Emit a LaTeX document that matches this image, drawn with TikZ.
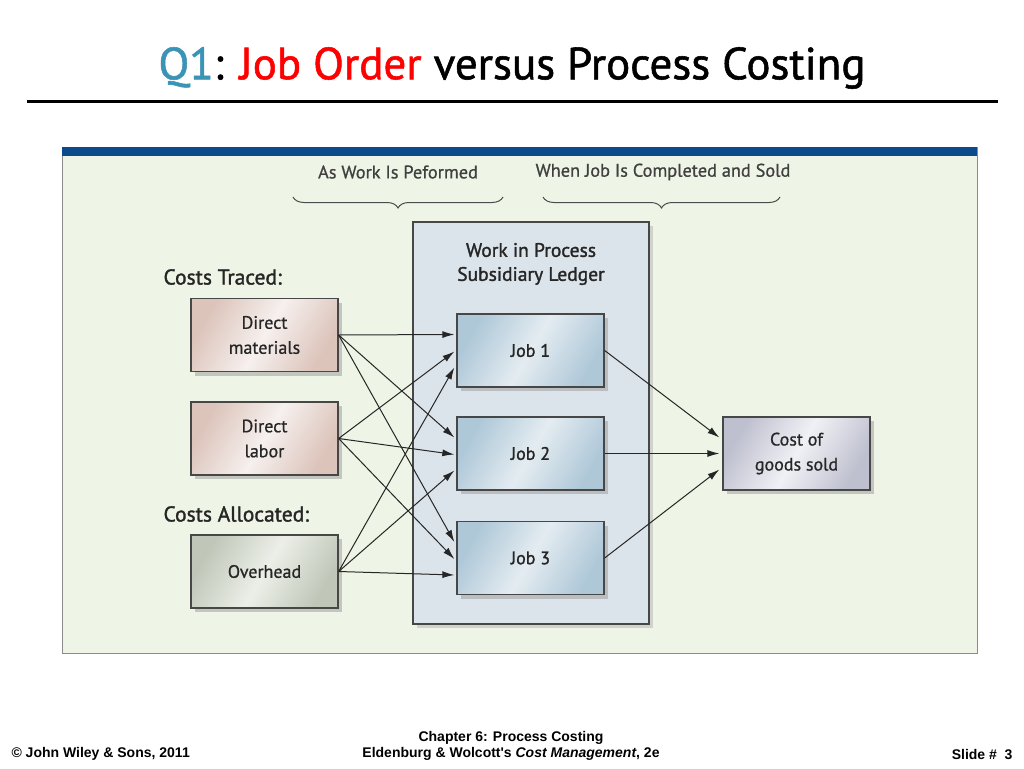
\documentclass[tikz,border=0pt]{standalone}
\usepackage{fontspec}
\setmainfont{PT Sans}
\newfontfamily\diagfont[FakeBold=0.8]{PT Sans}
\newfontfamily\headfont[FakeBold=1.5]{PT Sans}
\newfontfamily\titlefont[FakeBold=1.2]{PT Sans}
\newfontfamily\footfont{Liberation Sans}
\usetikzlibrary{arrows.meta,shadows,decorations.pathreplacing}

\definecolor{panelgreen}{HTML}{EEF5E6}
\definecolor{bandblue}{HTML}{0B4A8B}
\definecolor{ledgerblue}{HTML}{DCE4EB}
\definecolor{jobdark}{HTML}{AFC8D8}
\definecolor{joblight}{HTML}{E4ECF1}
\definecolor{costdark}{HTML}{DCC4BB}
\definecolor{costlight}{HTML}{F6F0EE}
\definecolor{ovhdark}{HTML}{C0C7B9}
\definecolor{ovhlight}{HTML}{ECEFE8}
\definecolor{cogsdark}{HTML}{BFC0CF}
\definecolor{cogslight}{HTML}{F0F1F5}
\definecolor{qblue}{HTML}{3B93B5}
\definecolor{linegray}{HTML}{474747}

\tikzset{
	box/.style={draw=linegray, line width=1.3pt, minimum width=147pt, minimum height=73pt, align=center,
		font=\diagfont\fontsize{18}{25}\selectfont, text=black!85,
		drop shadow={shadow xshift=4pt, shadow yshift=-4pt, fill=black!40, opacity=.5}},
	jobbox/.style={box, left color=jobdark, right color=jobdark, middle color=joblight, shading angle=60, font=\headfont\fontsize{18}{25}\selectfont},
	costbox/.style={box, left color=costdark, right color=costdark, middle color=costlight, shading angle=60},
	ovhbox/.style={box, left color=ovhdark, right color=ovhdark, middle color=ovhlight, shading angle=60},
	cogsbox/.style={box, left color=cogsdark, right color=cogsdark, middle color=cogslight, shading angle=60},
	flow/.style={-{Latex[length=12pt,width=7pt]}, line width=1pt, black!85},
	heading/.style={font=\headfont\fontsize{19.5}{24}\selectfont, text=black!85},
	phase/.style={font=\diagfont\fontsize{18.3}{22}\selectfont, text=black!75},
	phasebrace/.style={decorate, decoration={brace, amplitude=11pt, mirror}, line width=1pt, black!70},
	footer/.style={font=\footfont\bfseries\fontsize{14}{16}\selectfont}
}

\begin{document}
\begin{tikzpicture}[x=1pt,y=-1pt]
	\useasboundingbox (0,0) rectangle (1024,768);
	
	% title and rule
	\node (title) at (512,68) {\titlefont\fontsize{45}{50}\selectfont\textcolor{qblue}{Q1}: \textcolor{red}{Job Order} versus Process Costing};
	\draw[line width=3pt] (27,101) -- (998,101);
	
	% panel
	\draw[fill=panelgreen, draw=black!45, line width=1pt] (62,147) rectangle (977,653);
	\fill[bandblue] (62,147) rectangle (977,156);
	
	% phases
	\node[phase] (perf) at (398,172) {As Work Is Peformed};
	\node[phase] (sold) at (663,172) {When Job Is Completed and Sold};
	\draw[phasebrace] (293,197) -- (503,197);
	\draw[phasebrace] (543,197) -- (780,197);
	
	% ledger
	\node[draw=linegray, line width=1.3pt, fill=ledgerblue, minimum width=236pt, minimum height=402pt,
		drop shadow={shadow xshift=4pt, shadow yshift=-4pt, fill=black!30, opacity=.5}] (ledger) at (531,423) {};
	\node[heading, align=center, font=\headfont\fontsize{19.5}{24}\selectfont] (ledgertitle) at (531,264) {Work in Process\\Subsidiary Ledger};
	
	\node[jobbox] (job1) at (530.5,350.5) {Job 1};
	\node[jobbox] (job2) at (530.5,453.5) {Job 2};
	\node[jobbox] (job3) at (530.5,558) {Job 3};
	
	% costs
	\node[heading, anchor=west, font=\headfont\fontsize{21.5}{24}\selectfont] (traced) at (160,277) {Costs Traced:};
	\node[heading, anchor=west, font=\headfont\fontsize{21.5}{24}\selectfont] (allocated) at (160,514) {Costs Allocated:};
	\node[costbox] (dm) at (264.5,335) {Direct\\materials};
	\node[costbox] (dl) at (264.5,438.5) {Direct\\labor};
	\node[ovhbox] (oh) at (264.5,571.5) {Overhead};
	
	\node[cogsbox] (cogs) at (796.5,453.5) {Cost of\\goods sold};
	
	% flows into jobs
	\foreach \src/\dy in {dm/-16, dl/1, oh/17}{
		\foreach \job in {job1, job2, job3}{
			\draw[flow] (\src.east) -- ([yshift=-\dy pt, xshift=-2pt]\job.west);
		}
	}
	
	% flows to cost of goods sold
	\draw[flow] (job1.east) -- ([yshift=16pt, xshift=-3pt]cogs.west);
	\draw[flow] (job2.east) -- ([xshift=-3pt]cogs.west);
	\draw[flow] (job3.east) -- ([yshift=-16pt, xshift=-3pt]cogs.west);
	
	% footer
	\node[footer, align=center] (chapter) at (511,746) {Chapter 6: Process Costing\\Eldenburg \& Wolcott's \textit{Cost Management}, 2e};
	\node[footer, anchor=west] (wiley) at (8,754) {\textcopyright\ John Wiley \& Sons, 2011};
	\node[footer, anchor=east] (slide) at (1016,754) {Slide \#\ \ 3};
\end{tikzpicture}
\end{document}
